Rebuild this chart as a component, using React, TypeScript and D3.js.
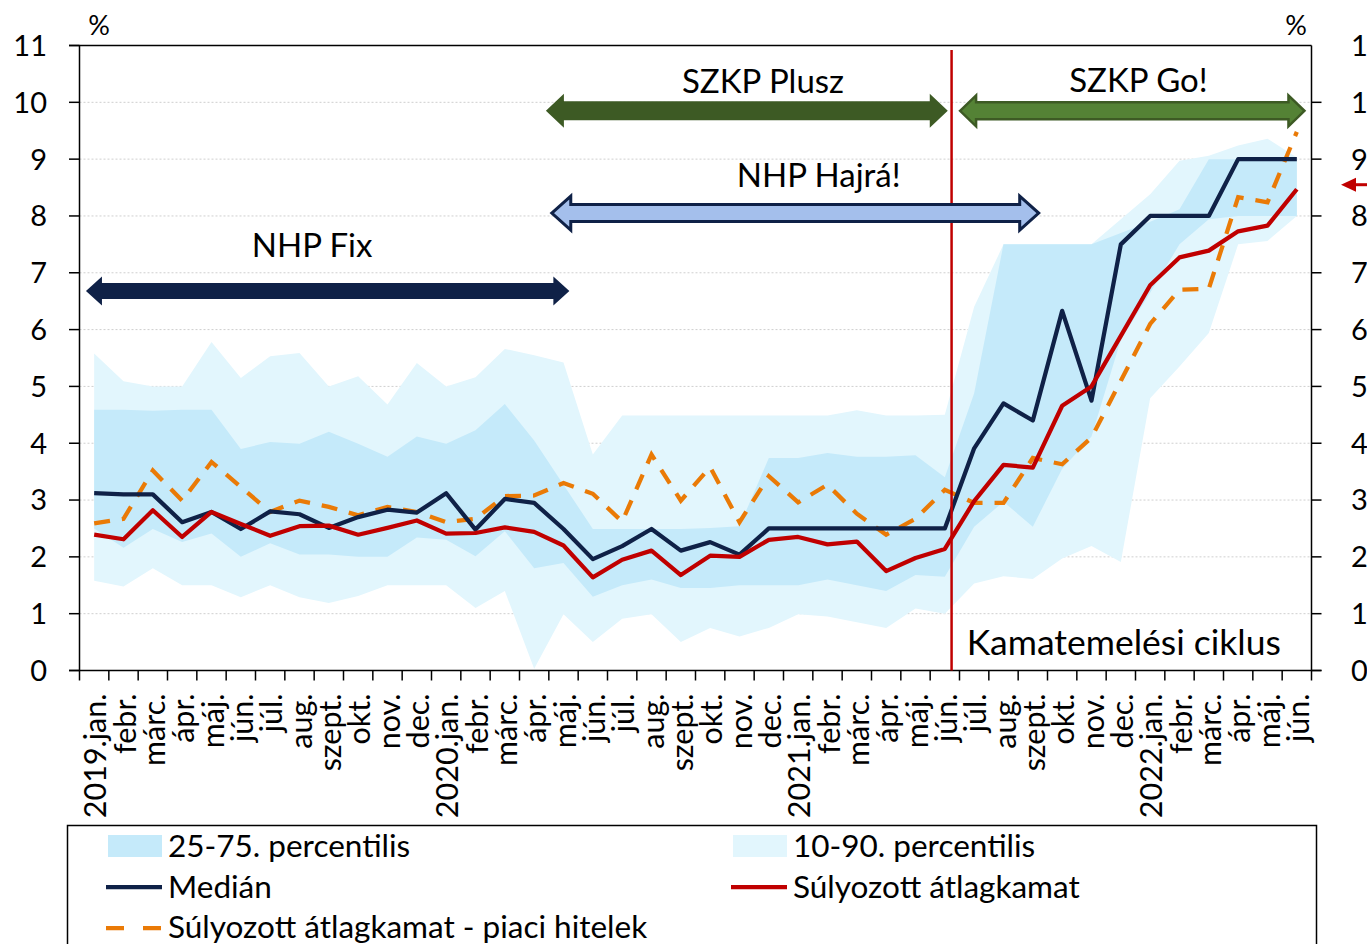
import React from 'react';
import * as d3 from 'd3';

// months 2019.jan - 2022.jun
const months = [
  '2019.jan.', 'febr.', 'márc.', 'ápr.', 'máj.', 'jún.', 'júl.', 'aug.', 'szept.', 'okt.', 'nov.', 'dec.',
  '2020.jan.', 'febr.', 'márc.', 'ápr.', 'máj.', 'jún.', 'júl.', 'aug.', 'szept.', 'okt.', 'nov.', 'dec.',
  '2021.jan.', 'febr.', 'márc.', 'ápr.', 'máj.', 'jún.', 'júl.', 'aug.', 'szept.', 'okt.', 'nov.', 'dec.',
  '2022.jan.', 'febr.', 'márc.', 'ápr.', 'máj.', 'jún.'
];

const p10 = [1.58, 1.48, 1.80, 1.50, 1.50, 1.29, 1.50, 1.29, 1.19, 1.31, 1.50, 1.50, 1.50,
  1.10, 1.40, 0.03, 0.99, 0.50, 0.91, 0.99, 0.50, 0.75, 0.60, 0.75, 0.99, 0.95, 0.85, 0.75, 1.09, 1.00,
  1.53, 1.66, 1.61, 1.97, 2.19, 1.91, 4.79, 5.35, 5.94, 7.50, 7.56, 8.00];
const p25 = [2.50, 2.16, 2.49, 2.26, 2.41, 2.00, 2.24, 2.04, 2.04, 2.00, 2.00, 2.34, 2.30,
  2.01, 2.45, 1.80, 1.89, 1.30, 1.50, 1.60, 1.45, 1.45, 1.50, 1.50, 1.50, 1.60, 1.50, 1.40, 1.68, 1.65,
  2.53, 2.97, 2.53, 3.55, 4.12, 5.82, 6.65, 7.50, 7.94, 8.00, 8.00, 8.00];
const p75 = [4.59, 4.59, 4.57, 4.59, 4.59, 3.90, 4.02, 3.99, 4.20, 3.99, 3.76, 4.12, 3.99,
  4.23, 4.69, 4.05, 3.27, 2.49, 2.49, 2.49, 2.49, 2.51, 2.54, 3.74, 3.74, 3.83, 3.76, 3.76, 3.79, 3.40,
  4.88, 7.50, 7.50, 7.50, 7.50, 7.70, 7.90, 8.12, 9.00, 9.00, 9.00, 9.00];
const p90 = [5.58, 5.09, 5.00, 5.00, 5.78, 5.15, 5.53, 5.59, 5.00, 5.18, 4.68, 5.41, 5.00,
  5.16, 5.66, 5.55, 5.42, 3.80, 4.49, 4.49, 4.49, 4.49, 4.49, 4.49, 4.49, 4.49, 4.58, 4.49, 4.49, 4.50,
  6.40, 7.50, 7.50, 7.50, 7.50, 7.94, 8.38, 8.97, 9.06, 9.24, 9.36, 9.03];

const median = [3.12, 3.10, 3.10, 2.61, 2.79, 2.49, 2.80, 2.75, 2.51, 2.70, 2.83, 2.78, 3.12,
  2.48, 3.02, 2.95, 2.49, 1.96, 2.19, 2.49, 2.11, 2.26, 2.04, 2.50, 2.50, 2.50, 2.50, 2.50, 2.50, 2.50,
  3.91, 4.70, 4.40, 6.33, 4.75, 7.50, 8.00, 8.00, 8.00, 9.00, 9.00, 9.00];
const weighted = [2.39, 2.31, 2.82, 2.35, 2.79, 2.58, 2.37, 2.54, 2.55, 2.39, 2.51, 2.64, 2.41,
  2.42, 2.52, 2.44, 2.20, 1.64, 1.95, 2.11, 1.68, 2.02, 2.00, 2.30, 2.35, 2.22, 2.27, 1.75, 1.98, 2.14,
  2.98, 3.62, 3.57, 4.66, 5.00, 5.89, 6.78, 7.27, 7.39, 7.73, 7.83, 8.47];
const marketLoans = [2.59, 2.67, 3.52, 2.99, 3.67, 3.23, 2.79, 2.99, 2.88, 2.73, 2.88, 2.79, 2.61,
  2.67, 3.07, 3.08, 3.30, 3.11, 2.62, 3.80, 2.99, 3.58, 2.61, 3.42, 2.96, 3.27, 2.76, 2.39, 2.67, 3.18,
  2.95, 2.95, 3.74, 3.63, 4.10, 5.10, 6.10, 6.70, 6.72, 8.33, 8.24, 9.48];

const yTicks = [0, 1, 2, 3, 4, 5, 6, 7, 8, 9, 10, 11];

// programme periods, in month index units
const programmes = [
  { label: 'NHP Fix', from: 0.22, to: 16.7, level: 6.68, textAt: 7.93, textLevel: 7.28, kind: 'navy' },
  { label: 'SZKP Plusz', from: 15.9, to: 29.6, level: 9.85, textAt: 23.3, textLevel: 10.16, kind: 'olive' },
  { label: 'NHP Hajrá!', from: 16.1, to: 32.7, level: 8.05, textAt: 25.2, textLevel: 8.51, kind: 'blue' },
  { label: 'SZKP Go!', from: 30.02, to: 41.76, level: 9.85, textAt: 36.1, textLevel: 10.18, kind: 'green' }
];
const cycleStart = 29.73;

const FONT = "Lato, 'Open Sans', sans-serif";
const NAVY = '#0f2147';
const RED = '#c00000';
const ORANGE = '#ea7a06';
const MID_BLUE = '#c5eafa';
const LIGHT_BLUE = '#e2f6fd';

const arrowStyles: any = {
  navy: { fill: NAVY, stroke: 'none', sw: 0, bh: 8, hh: 14.5, hl: 16 },
  olive: { fill: '#3d5a24', stroke: 'none', sw: 0, bh: 9.5, hh: 17, hl: 18 },
  blue: { fill: '#a4bfec', stroke: NAVY, sw: 3, bh: 8.5, hh: 17, hl: 19 },
  green: { fill: '#548235', stroke: '#3d5a24', sw: 2.5, bh: 8.5, hh: 15.5, hl: 16 }
};

function blockArrow(x0: number, x1: number, yc: number, s: any) {
  const { bh, hh, hl } = s;
  return `M${x0},${yc} L${x0 + hl},${yc - hh} L${x0 + hl},${yc - bh} L${x1 - hl},${yc - bh} L${x1 - hl},${yc - hh} ` +
    `L${x1},${yc} L${x1 - hl},${yc + hh} L${x1 - hl},${yc + bh} L${x0 + hl},${yc + bh} L${x0 + hl},${yc + hh} Z`;
}

export default function App() {
  const width = 1367;
  const height = 944;
  const left = 79.5, right = 1311.5, top = 45.5, bottom = 670.5;

  const x = d3.scaleBand<number>().domain(d3.range(months.length)).range([left, right]);
  const xi = d3.scaleLinear().domain([0, months.length]).range([left, right]);
  const y = d3.scaleLinear().domain([0, 11]).range([bottom, top]);
  const cx = (i: number) => (x(i) as number) + x.bandwidth() / 2;

  const band = (lo: number[], hi: number[]) =>
    d3.area<number>().x((_, i) => cx(i)).y0((_, i) => y(lo[i])).y1(d => y(d))(hi) || '';
  const line = d3.line<number>().x((_, i) => cx(i)).y(d => y(d));

  return (
    <div style={{ position: 'absolute', left: 0, top: 0 }}>
      <svg width={width} height={height} style={{ display: 'block', background: '#fff' }} fontFamily={FONT}>
        {/* grid */}
        {yTicks.filter(t => t > 0 && t < 11).map(t => (
          <line key={'g' + t} x1={left} x2={right} y1={y(t)} y2={y(t)} stroke="#cfcfcf" strokeWidth={1} strokeDasharray="2 2" />
        ))}

        {/* percentile bands */}
        <path d={band(p10, p90)} fill={LIGHT_BLUE} />
        <path d={band(p25, p75)} fill={MID_BLUE} />

        {/* lines */}
        <path d={line(marketLoans) || ''} fill="none" stroke={ORANGE} strokeWidth={4.25} strokeDasharray="16 12" />
        <path d={line(median) || ''} fill="none" stroke={NAVY} strokeWidth={4.25} strokeLinejoin="round" />
        <path d={line(weighted) || ''} fill="none" stroke={RED} strokeWidth={4.25} strokeLinejoin="round" />

        {/* axes */}
        <line x1={69} x2={right} y1={top} y2={top} stroke="#000" strokeWidth={1.5} />
        <line x1={left} x2={left} y1={top} y2={bottom} stroke="#000" strokeWidth={1.5} />
        <line x1={right} x2={right} y1={top} y2={bottom} stroke="#000" strokeWidth={1.5} />
        <line x1={69} x2={1321.5} y1={bottom} y2={bottom} stroke="#000" strokeWidth={1.5} />
        {yTicks.map(t => (
          <g key={'yt' + t}>
            <line x1={69} x2={left} y1={y(t)} y2={y(t)} stroke="#000" strokeWidth={1.5} />
            {t < 11 && <line x1={right} x2={1321.5} y1={y(t)} y2={y(t)} stroke="#000" strokeWidth={1.5} />}
            <text x={47} y={y(t)} dy="0.36em" textAnchor="end" fontSize={29} fill="#000">{t}</text>
            <text x={1351} y={y(t)} dy="0.36em" textAnchor="start" fontSize={29} fill="#000">{t}</text>
          </g>
        ))}
        <text x={99} y={35} textAnchor="middle" fontSize={27}>%</text>
        <text x={1296} y={35} textAnchor="middle" fontSize={27}>%</text>

        {d3.range(months.length + 1).map(k => (
          <line key={'xt' + k} x1={xi(k)} x2={xi(k)} y1={bottom} y2={bottom + 10} stroke="#000" strokeWidth={1.5} />
        ))}
        {months.map((m, i) => (
          <text key={'xl' + i} transform={`translate(${cx(i) + 12},${bottom + 23}) rotate(-90)`}
            textAnchor="end" fontSize={30.5} fill="#000">{m}</text>
        ))}

        {/* rate hike cycle */}
        <line x1={xi(cycleStart)} x2={xi(cycleStart)} y1={y(10.92)} y2={bottom} stroke={RED} strokeWidth={2.5} />
        <text x={xi(35.6)} y={y(0.27)} textAnchor="middle" fontSize={35.5} fill="#000">Kamatemelési ciklus</text>

        {/* programme arrows */}
        {programmes.map(p => {
          const s = arrowStyles[p.kind];
          return (
            <g key={p.label}>
              <path d={blockArrow(xi(p.from), xi(p.to), y(p.level), s)} fill={s.fill}
                stroke={s.stroke} strokeWidth={s.sw} strokeLinejoin="miter" />
              <text x={xi(p.textAt)} y={y(p.textLevel)} textAnchor="middle" fontSize={33} fill="#000">{p.label}</text>
            </g>
          );
        })}

        {/* small red marker at right axis */}
        <line x1={1352} x2={1367} y1={y(8.55)} y2={y(8.55)} stroke={RED} strokeWidth={3} />
        <path d={`M1341,${y(8.55)} L1356,${y(8.55) - 7} L1356,${y(8.55) + 7} Z`} fill={RED} />

        {/* legend */}
        <rect x={67.5} y={825.5} width={1249} height={140} fill="#fff" stroke="#000" strokeWidth={1.5} />
        <rect x={108} y={835} width={54} height={22} fill={MID_BLUE} />
        <text x={168} y={857} fontSize={31.5}>25-75. percentilis</text>
        <rect x={733} y={835} width={54} height={22} fill={LIGHT_BLUE} />
        <text x={793} y={857} fontSize={31.5}>10-90. percentilis</text>
        <line x1={106} x2={162} y1={887} y2={887} stroke={NAVY} strokeWidth={4.25} />
        <text x={168} y={898} fontSize={31.5}>Medián</text>
        <line x1={731} x2={787} y1={887} y2={887} stroke={RED} strokeWidth={4.25} />
        <text x={793} y={898} fontSize={31.5}>Súlyozott átlagkamat</text>
        <line x1={106} x2={162} y1={928} y2={928} stroke={ORANGE} strokeWidth={4.25} strokeDasharray="18 19" />
        <text x={168} y={938} fontSize={31.5}>Súlyozott átlagkamat - piaci hitelek</text>
      </svg>
    </div>
  );
}
